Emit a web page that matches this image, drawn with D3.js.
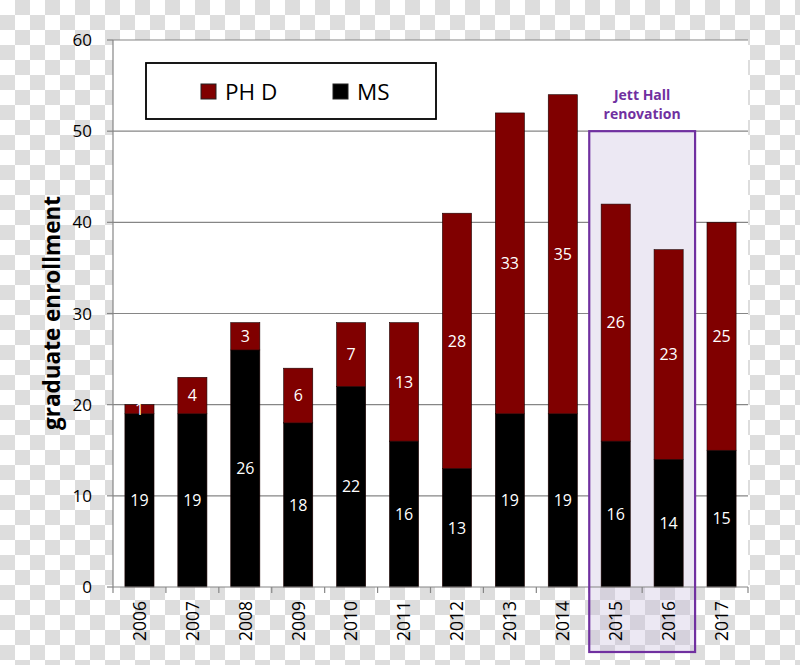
<!DOCTYPE html>
<html>
<head>
<meta charset="utf-8">
<script src="https://cdn.jsdelivr.net/npm/d3@7"></script>
<style>
  html, body { margin: 0; padding: 0; }
  svg { display: block; }
  text { font-family: "Open Sans", "Noto Sans", sans-serif; }
</style>
</head>
<body>
<svg class="Chart"></svg>
<script>
// values
var years = ["2006", "2007", "2008", "2009", "2010", "2011", "2012", "2013", "2014", "2015", "2016", "2017"];
var ms    = [19, 19, 26, 18, 22, 16, 13, 19, 19, 16, 14, 15];
var phd   = [1, 4, 3, 6, 7, 13, 28, 33, 35, 26, 23, 25];
var yTicks = [0, 10, 20, 30, 40, 50, 60];
var highlightYears = ["2015", "2016"];
var highlightTop = 50;

function drawChart(){
    let width = 800, height = 665;
    let left = 113, right = 748, top = 40, bottom = 587;
    let red = "#800000", grid = "#868686", purple = "#7030a0";

    let svg = d3.select(".Chart")
        .attr("width", width)
        .attr("height", height);

    // transparency checkerboard behind everything
    let defs = svg.append("defs");
    let pat = defs.append("pattern")
        .attr("id", "checker")
        .attr("width", 30).attr("height", 30)
        .attr("patternUnits", "userSpaceOnUse");
    pat.append("rect").attr("width", 30).attr("height", 30).attr("fill", "#fff");
    pat.append("rect").attr("x", 15).attr("y", 0).attr("width", 15).attr("height", 15).attr("fill", "#dddddd");
    pat.append("rect").attr("x", 0).attr("y", 15).attr("width", 15).attr("height", 15).attr("fill", "#dddddd");
    svg.append("rect").attr("width", width).attr("height", height).attr("fill", "url(#checker)");

    let x = d3.scaleBand().domain(years).range([left, right]).padding(0);
    let y = d3.scaleLinear().domain([0, 60]).range([bottom, top]);
    let barW = x.bandwidth() * 0.55;

    // plot area
    svg.append("rect")
        .attr("x", left).attr("y", top)
        .attr("width", right - left).attr("height", bottom - top)
        .attr("fill", "#fff");

    // gridlines
    svg.append("g")
        .selectAll("line")
        .data(yTicks.filter(d => d > 0))
        .join("line")
        .attr("x1", left).attr("x2", right)
        .attr("y1", d => y(d)).attr("y2", d => y(d))
        .attr("stroke", grid).attr("stroke-width", 1.2);

    // highlight box (fill)
    let hx0 = x(highlightYears[0]);
    let hx1 = x(highlightYears[highlightYears.length - 1]) + x.bandwidth();
    let hy0 = y(highlightTop), hy1 = 652;
    svg.append("rect")
        .attr("x", hx0).attr("y", hy0)
        .attr("width", hx1 - hx0).attr("height", bottom - hy0)
        .attr("fill", "#fff");
    svg.append("rect")
        .attr("x", hx0).attr("y", hy0)
        .attr("width", hx1 - hx0).attr("height", hy1 - hy0)
        .attr("fill", "rgb(196,183,218)")
        .attr("fill-opacity", 0.32);

    // stacked bars
    let rows = years.map((yr, i) => ({year: yr, ms: ms[i], phd: phd[i]}));
    let stack = d3.stack().keys(["ms", "phd"])(rows);
    let colors = {ms: "#000", phd: red};

    let layers = svg.append("g")
        .selectAll("g")
        .data(stack)
        .join("g")
        .attr("fill", d => colors[d.key]);

    layers.selectAll("rect")
        .data(d => d)
        .join("rect")
        .attr("x", d => x(d.data.year) + (x.bandwidth() - barW) / 2)
        .attr("y", d => y(d[1]))
        .attr("width", barW)
        .attr("height", d => y(d[0]) - y(d[1]))
        .attr("stroke", "#1a0000")
        .attr("stroke-width", 0.6);

    // value labels
    layers.selectAll("text")
        .data(d => d)
        .join("text")
        .attr("x", d => x(d.data.year) + x.bandwidth() / 2)
        .attr("y", d => y((d[0] + d[1]) / 2))
        .attr("dy", "0.36em")
        .attr("text-anchor", "middle")
        .attr("fill", "#fff")
        .attr("font-size", 16)
        .text(d => d[1] - d[0]);

    // axes lines
    svg.append("line")
        .attr("x1", left).attr("x2", left).attr("y1", top).attr("y2", bottom)
        .attr("stroke", grid).attr("stroke-width", 1.2);
    svg.append("line")
        .attr("x1", left).attr("x2", right).attr("y1", bottom).attr("y2", bottom)
        .attr("stroke", grid).attr("stroke-width", 1.2);

    // y ticks + labels
    let yg = svg.append("g");
    yg.selectAll("line")
        .data(yTicks)
        .join("line")
        .attr("x1", left - 6).attr("x2", left)
        .attr("y1", d => y(d)).attr("y2", d => y(d))
        .attr("stroke", grid).attr("stroke-width", 1.2);
    yg.selectAll("text")
        .data(yTicks)
        .join("text")
        .attr("x", 92)
        .attr("y", d => y(d))
        .attr("dy", "0.36em")
        .attr("text-anchor", "end")
        .attr("font-size", 17)
        .attr("fill", "#000")
        .text(d => d);

    // x ticks at band edges
    let edges = years.map(d => x(d)).concat([right]);
    svg.append("g")
        .selectAll("line")
        .data(edges)
        .join("line")
        .attr("x1", d => d).attr("x2", d => d)
        .attr("y1", bottom).attr("y2", bottom + 6)
        .attr("stroke", grid).attr("stroke-width", 1.2);

    svg.append("g")
        .selectAll("text")
        .data(years)
        .join("text")
        .attr("transform", d => `translate(${x(d) + x.bandwidth() / 2},601)rotate(-90)`)
        .attr("dy", "0.36em")
        .attr("text-anchor", "end")
        .attr("font-size", 17.5)
        .attr("fill", "#000")
        .text(d => d);

    // y axis title
    svg.append("text")
        .attr("transform", "translate(52,313)rotate(-90)")
        .attr("dy", "0.36em")
        .attr("text-anchor", "middle")
        .attr("font-size", 22.5)
        .attr("font-weight", "bold")
        .attr("fill", "#000")
        .text("graduate enrollment");

    // highlight box outline + caption
    svg.append("rect")
        .attr("x", hx0).attr("y", hy0)
        .attr("width", hx1 - hx0).attr("height", hy1 - hy0)
        .attr("fill", "none")
        .attr("stroke", purple).attr("stroke-width", 2.2);
    let cx = (hx0 + hx1) / 2;
    svg.append("text")
        .attr("x", cx).attr("y", 95).attr("dy", "0.36em")
        .attr("text-anchor", "middle")
        .attr("font-size", 14).attr("font-weight", "bold")
        .attr("fill", purple)
        .text("Jett Hall");
    svg.append("text")
        .attr("x", cx).attr("y", 114).attr("dy", "0.36em")
        .attr("text-anchor", "middle")
        .attr("font-size", 14).attr("font-weight", "bold")
        .attr("fill", purple)
        .text("renovation");

    // legend
    let lg = svg.append("g");
    lg.append("rect")
        .attr("x", 146).attr("y", 63).attr("width", 290).attr("height", 56)
        .attr("fill", "#fff").attr("stroke", "#000").attr("stroke-width", 1.8);
    let items = [{name: "PH D", color: red, x: 201}, {name: "MS", color: "#000", x: 333}];
    let it = lg.selectAll("g")
        .data(items)
        .join("g")
        .attr("transform", d => `translate(${d.x},84)`);
    it.append("rect")
        .attr("width", 15).attr("height", 15)
        .attr("fill", d => d.color)
        .attr("stroke", "#222").attr("stroke-width", 1);
    it.append("text")
        .attr("x", 24).attr("y", 8).attr("dy", "0.36em")
        .attr("font-size", 22.5)
        .attr("fill", "#000")
        .text(d => d.name);
}

drawChart();
</script>
</body>
</html>
